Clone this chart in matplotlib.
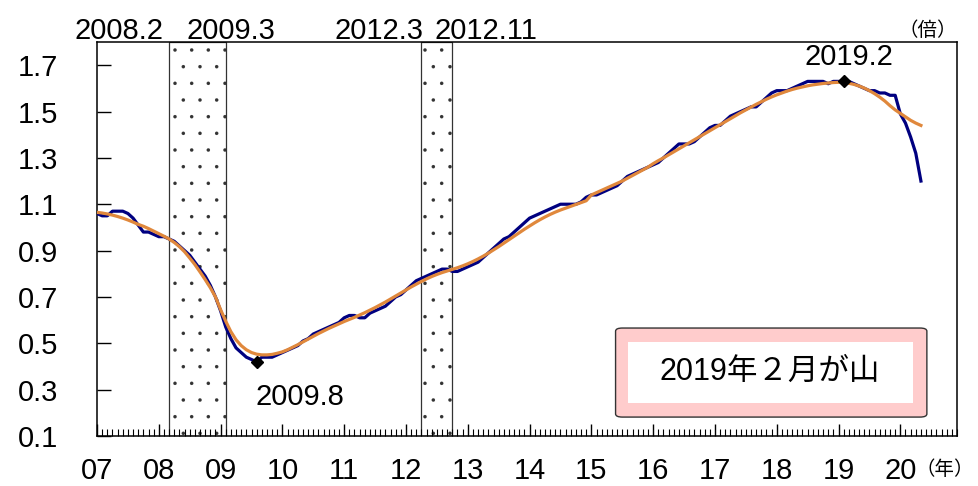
import matplotlib
matplotlib.use("Agg")
import matplotlib.pyplot as plt
import matplotlib.transforms as mtransforms
from matplotlib.patches import FancyBboxPatch, Rectangle
from matplotlib.ticker import MultipleLocator, FixedLocator

plt.rcParams["font.family"] = ["Liberation Sans", "Noto Sans CJK JP"]
plt.rcParams["hatch.color"] = "#555555"
plt.rcParams["hatch.linewidth"] = 0.1

# ==========================================================
# Data (monthly, Jan 2007 - May 2020)
# ==========================================================

start_year = 2007

ratio = [
    1.06, 1.05, 1.05, 1.07, 1.07, 1.07, 1.06, 1.04, 1.01, 0.98, 0.98, 0.97,  # 2007
    0.96, 0.96, 0.95, 0.94, 0.92, 0.90, 0.88, 0.85, 0.82, 0.79, 0.75, 0.70,  # 2008
    0.64, 0.57, 0.52, 0.48, 0.46, 0.44, 0.43, 0.42, 0.44, 0.44, 0.44, 0.45,  # 2009
    0.46, 0.47, 0.48, 0.49, 0.51, 0.52, 0.54, 0.55, 0.56, 0.57, 0.58, 0.59,  # 2010
    0.61, 0.62, 0.62, 0.61, 0.61, 0.63, 0.64, 0.65, 0.66, 0.68, 0.70, 0.71,  # 2011
    0.73, 0.75, 0.77, 0.78, 0.79, 0.80, 0.81, 0.82, 0.82, 0.81, 0.81, 0.82,  # 2012
    0.83, 0.84, 0.85, 0.87, 0.89, 0.91, 0.93, 0.95, 0.96, 0.98, 1.00, 1.02,  # 2013
    1.04, 1.05, 1.06, 1.07, 1.08, 1.09, 1.10, 1.10, 1.10, 1.10, 1.11, 1.13,  # 2014
    1.14, 1.14, 1.15, 1.16, 1.17, 1.18, 1.20, 1.22, 1.23, 1.24, 1.25, 1.26,  # 2015
    1.27, 1.28, 1.30, 1.32, 1.34, 1.36, 1.36, 1.36, 1.37, 1.39, 1.41, 1.43,  # 2016
    1.44, 1.44, 1.46, 1.48, 1.49, 1.50, 1.51, 1.52, 1.52, 1.54, 1.56, 1.58,  # 2017
    1.59, 1.59, 1.59, 1.60, 1.61, 1.62, 1.63, 1.63, 1.63, 1.63, 1.62, 1.63,  # 2018
    1.63, 1.63, 1.63, 1.62, 1.61, 1.60, 1.59, 1.59, 1.58, 1.58, 1.57, 1.57,  # 2019
    1.49, 1.45, 1.39, 1.32, 1.20,                                            # 2020
]

trend = [
    1.065, 1.062, 1.058, 1.053, 1.047, 1.040, 1.032, 1.023, 1.013, 1.005, 0.995, 0.984,  # 2007
    0.973, 0.962, 0.950, 0.935, 0.917, 0.895, 0.868, 0.840, 0.808, 0.775, 0.740, 0.700,  # 2008
    0.645, 0.595, 0.550, 0.515, 0.490, 0.472, 0.460, 0.453, 0.450, 0.450, 0.452, 0.457,  # 2009
    0.463, 0.472, 0.483, 0.494, 0.506, 0.518, 0.530, 0.542, 0.553, 0.564, 0.574, 0.584,  # 2010
    0.594, 0.603, 0.612, 0.622, 0.632, 0.643, 0.654, 0.666, 0.678, 0.691, 0.704, 0.717,  # 2011
    0.730, 0.743, 0.755, 0.767, 0.778, 0.788, 0.797, 0.805, 0.812, 0.819, 0.826, 0.834,  # 2012
    0.843, 0.853, 0.864, 0.876, 0.889, 0.903, 0.917, 0.932, 0.947, 0.962, 0.977, 0.992,  # 2013
    1.006, 1.020, 1.033, 1.045, 1.056, 1.066, 1.075, 1.083, 1.091, 1.099, 1.107, 1.115,  # 2014
    1.140, 1.150, 1.160, 1.170, 1.180, 1.190, 1.200, 1.212, 1.224, 1.236, 1.248, 1.260,  # 2015
    1.275, 1.288, 1.300, 1.313, 1.326, 1.339, 1.352, 1.365, 1.378, 1.391, 1.404, 1.417,  # 2016
    1.430, 1.443, 1.456, 1.469, 1.482, 1.495, 1.507, 1.519, 1.531, 1.542, 1.553, 1.563,  # 2017
    1.572, 1.580, 1.588, 1.595, 1.601, 1.606, 1.611, 1.615, 1.618, 1.621, 1.623, 1.625,  # 2018
    1.626, 1.625, 1.622, 1.617, 1.610, 1.601, 1.590, 1.577, 1.562, 1.545, 1.525, 1.507,  # 2019
    1.492, 1.477, 1.462, 1.450, 1.440,                                                   # 2020
]

# recession shading (decimal years) and labels
recessions = [(2008 + 2 / 12, 2009 + 1 / 12), (2012 + 3 / 12, 2012 + 9 / 12)]
recession_labels = ["2008.2", "2009.3", "2012.3", "2012.11"]
recession_label_x = [2007.36, 2009.17, 2011.56, 2013.29]

# turning points
trough = (2009 + 7 / 12, 0.42)
peak = (2019 + 1 / 12, 1.63)

year_labels = ["07", "08", "09", "10", "11", "12", "13",
               "14", "15", "16", "17", "18", "19", "20"]

months = [start_year + i / 12 for i in range(len(ratio))]

# ==========================================================
# Figure
# ==========================================================

fig = plt.figure(figsize=(9.79, 4.86), dpi=100)
ax = fig.add_axes([0.0991, 0.1029, 0.8784, 0.8107])

for x0, x1 in recessions:
    ax.axvspan(x0, x1, facecolor="white", edgecolor="#333333",
               hatch=".", linewidth=0.9, zorder=1)

ax.plot(months, ratio, color="#000080", linewidth=2.3, zorder=3)
ax.plot(months[:len(trend)], trend, color="#E0883C", linewidth=2.3, zorder=4)

ax.plot(*trough, marker="D", color="black", markersize=6, zorder=5)
ax.plot(*peak, marker="D", color="black", markersize=6, zorder=5)
ax.text(2010.28, 0.27, "2009.8", fontsize=21, ha="center", va="center")
ax.text(2019.17, 1.735, "2019.2", fontsize=21, ha="center", va="center")

ax.set_xlim(2007, 2020 + 11 / 12)
ax.set_ylim(0.1, 1.8)

# axes styling
for side in ["top", "bottom", "left", "right"]:
    ax.spines[side].set_linewidth(1.1)
    ax.spines[side].set_color("black")

ax.yaxis.set_major_locator(FixedLocator([0.1, 0.3, 0.5, 0.7, 0.9, 1.1, 1.3, 1.5, 1.7]))
ax.set_yticklabels(["0.1", "0.3", "0.5", "0.7", "0.9", "1.1", "1.3", "1.5", "1.7"])
ax.xaxis.set_major_locator(FixedLocator(list(range(2007, 2021))))
ax.set_xticklabels(year_labels)
ax.xaxis.set_minor_locator(MultipleLocator(1 / 12))

ax.tick_params(axis="y", direction="in", length=10, width=1, labelsize=21, pad=28)
ax.tick_params(axis="x", which="major", direction="in", length=9, width=1,
               labelsize=21, pad=15)
ax.tick_params(axis="x", which="minor", direction="in", length=5, width=0.8)

# recession labels above the plot
trans = mtransforms.blended_transform_factory(ax.transData, ax.transAxes)
for lbl, xl in zip(recession_labels, recession_label_x):
    ax.text(xl, 1.028, lbl, transform=trans, fontsize=21, ha="center", va="center",
            clip_on=False)

# unit labels
ax.text(1.0, 1.03, "（倍）", transform=ax.transAxes, fontsize=14,
        ha="right", va="center", family=["Noto Sans CJK JP"])
ax.text(1.02, -0.084, "（年）", transform=ax.transAxes, fontsize=14,
        ha="right", va="center", family=["Noto Sans CJK JP"])

# annotation box
outer = FancyBboxPatch((0.603, 0.048), 0.362, 0.226, transform=ax.transAxes,
                       boxstyle="round,pad=0,rounding_size=0.008",
                       facecolor="#FFCCCC", edgecolor="#333333", linewidth=1,
                       zorder=6)
inner = Rectangle((0.617, 0.084), 0.332, 0.155, transform=ax.transAxes,
                  facecolor="white", edgecolor="none", zorder=7)
ax.add_patch(outer)
ax.add_patch(inner)
ax.text(0.7826, 0.1624, "2019年２月が山", transform=ax.transAxes, fontsize=22,
        ha="center", va="center", zorder=8)

fig.savefig("out.png", dpi=100)
